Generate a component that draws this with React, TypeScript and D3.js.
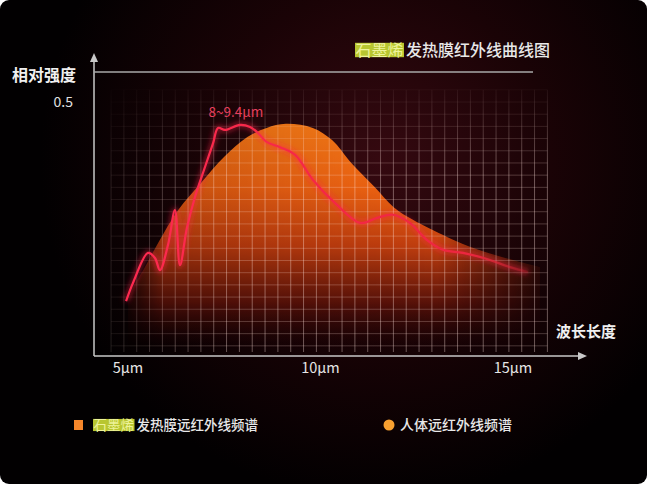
import { useEffect, useRef } from 'react';
import * as d3 from 'd3';

// human body far-infrared spectrum (orange area)
const bodyWave = [5.0, 5.4, 5.8, 6.3, 6.9, 7.5, 8.1, 8.6, 9.1, 9.8, 10.3, 10.8, 11.4, 11.9, 12.4, 13.3, 14.1, 15.0, 15.7];
const bodyIntensity = [0.12, 0.17, 0.225, 0.287, 0.341, 0.392, 0.431, 0.449, 0.457, 0.449, 0.425, 0.38, 0.333, 0.293, 0.268, 0.234, 0.209, 0.189, 0.175];

// graphene heating film spectrum (red line)
const filmWave = [4.95, 5.13, 5.52, 5.7, 5.83, 6.04, 6.22, 6.35, 6.53, 6.74, 7.0, 7.21, 7.34, 7.52, 7.91, 8.17, 8.35, 8.61, 8.95, 9.34, 9.81, 10.38, 11.03, 11.47, 11.88, 12.32, 12.77, 13.18, 13.7, 14.32, 14.92, 15.39];
const filmIntensity = [0.108, 0.144, 0.203, 0.193, 0.169, 0.219, 0.287, 0.179, 0.252, 0.313, 0.372, 0.419, 0.449, 0.445, 0.455, 0.451, 0.441, 0.421, 0.411, 0.396, 0.346, 0.301, 0.262, 0.272, 0.278, 0.262, 0.228, 0.209, 0.203, 0.191, 0.175, 0.165];

const xTicks = [5, 10, 15];
const xTickLabels = ['5µm', '10µm', '15µm'];
const yTicks = [0.5];
const yTickLabels = ['0.5'];

const highlight = '石墨烯';
const titleRest = '发热膜红外线曲线图';
const yAxisTitle = '相对强度';
const xAxisTitle = '波长长度';
const peakNote = '8~9.4µm';
const legendFilmRest = '发热膜远红外线频谱';
const legendBody = '人体远红外线频谱';

const FONT = '"Noto Sans CJK SC", "Noto Sans", sans-serif';

export default function App() {
  const svgRef = useRef<SVGSVGElement>(null);

  useEffect(() => {
    if (!svgRef.current) return;
    const W = 647;
    const H = 484;
    const svg = d3.select(svgRef.current);
    svg.selectAll('*').remove();
    svg.attr('width', W).attr('height', H);

    const axisX = 94;
    const axisY = 356;

    const x = d3.scaleLinear().domain([5, 15]).range([128, 513]);
    const y = d3.scaleLinear().domain([0, 0.5]).range([axisY, 102]);

    const defs = svg.append('defs');

    // background glow
    const bg = defs.append('radialGradient').attr('id', 'bgGlow')
      .attr('gradientUnits', 'userSpaceOnUse')
      .attr('cx', 380).attr('cy', 160).attr('r', 340);
    bg.append('stop').attr('offset', 0).attr('stop-color', '#350910');
    bg.append('stop').attr('offset', 0.5).attr('stop-color', '#1a0306');
    bg.append('stop').attr('offset', 1).attr('stop-color', '#020001');

    // area fill
    const areaGrad = defs.append('linearGradient').attr('id', 'areaGrad')
      .attr('gradientUnits', 'userSpaceOnUse')
      .attr('x1', 0).attr('x2', 0).attr('y1', 120).attr('y2', 348);
    areaGrad.append('stop').attr('offset', 0).attr('stop-color', '#ff8016');
    areaGrad.append('stop').attr('offset', 0.3).attr('stop-color', '#f26512');
    areaGrad.append('stop').attr('offset', 0.55).attr('stop-color', '#c23e0e');
    areaGrad.append('stop').attr('offset', 0.8).attr('stop-color', '#5a1209');
    areaGrad.append('stop').attr('offset', 1).attr('stop-color', '#2a0505').attr('stop-opacity', 0);

    const areaFade = defs.append('linearGradient').attr('id', 'areaFade')
      .attr('gradientUnits', 'userSpaceOnUse')
      .attr('x1', 120).attr('x2', 555).attr('y1', 0).attr('y2', 0);
    areaFade.append('stop').attr('offset', 0).attr('stop-color', '#fff').attr('stop-opacity', 0);
    areaFade.append('stop').attr('offset', 0.1).attr('stop-color', '#fff').attr('stop-opacity', 0.8);
    areaFade.append('stop').attr('offset', 0.73).attr('stop-color', '#fff').attr('stop-opacity', 1);
    areaFade.append('stop').attr('offset', 1).attr('stop-color', '#fff').attr('stop-opacity', 0);
    defs.append('mask').attr('id', 'areaMask')
      .append('rect').attr('x', 0).attr('y', 0).attr('width', W).attr('height', H)
      .attr('fill', 'url(#areaFade)');

    // grid fades
    const gridFadeV = defs.append('linearGradient').attr('id', 'gridFadeV')
      .attr('gradientUnits', 'userSpaceOnUse')
      .attr('x1', 0).attr('x2', 0).attr('y1', 82).attr('y2', 175);
    gridFadeV.append('stop').attr('offset', 0).attr('stop-color', '#fff').attr('stop-opacity', 0.08);
    gridFadeV.append('stop').attr('offset', 1).attr('stop-color', '#fff').attr('stop-opacity', 1);
    defs.append('mask').attr('id', 'gridMaskV')
      .append('rect').attr('x', 0).attr('y', 0).attr('width', W).attr('height', H)
      .attr('fill', 'url(#gridFadeV)');
    const gridFadeH = defs.append('linearGradient').attr('id', 'gridFadeH')
      .attr('gradientUnits', 'userSpaceOnUse')
      .attr('x1', 105).attr('x2', 230).attr('y1', 0).attr('y2', 0);
    gridFadeH.append('stop').attr('offset', 0).attr('stop-color', '#fff').attr('stop-opacity', 0.3);
    gridFadeH.append('stop').attr('offset', 1).attr('stop-color', '#fff').attr('stop-opacity', 1);
    defs.append('mask').attr('id', 'gridMaskH')
      .append('rect').attr('x', 0).attr('y', 0).attr('width', W).attr('height', H)
      .attr('fill', 'url(#gridFadeH)');

    // red line fade at the right end
    const lineGrad = defs.append('linearGradient').attr('id', 'lineGrad')
      .attr('gradientUnits', 'userSpaceOnUse')
      .attr('x1', 120).attr('x2', 532).attr('y1', 0).attr('y2', 0);
    lineGrad.append('stop').attr('offset', 0).attr('stop-color', '#ff2a50');
    lineGrad.append('stop').attr('offset', 0.85).attr('stop-color', '#ec263f');
    lineGrad.append('stop').attr('offset', 1).attr('stop-color', '#e02838').attr('stop-opacity', 0.15);

    const blur = defs.append('filter').attr('id', 'glow')
      .attr('x', '-10%').attr('y', '-10%').attr('width', '120%').attr('height', '120%');
    blur.append('feGaussianBlur').attr('stdDeviation', 2.5);

    // background with rounded corners
    svg.append('rect').attr('x', 0).attr('y', 0).attr('width', W).attr('height', H)
      .attr('rx', 9).attr('fill', 'url(#bgGlow)');

    // human body area
    const area = d3.area<number>()
      .x((_, i) => x(bodyWave[i]))
      .y0(() => y(0))
      .y1(d => y(d))
      .curve(d3.curveCatmullRom.alpha(0.5));
    svg.append('g').attr('mask', 'url(#areaMask)')
      .append('path')
      .datum(bodyIntensity)
      .attr('d', area)
      .attr('fill', 'url(#areaGrad)');

    // grid
    const gridX = d3.range(4.56, 16.15, 1 / 3);
    const gridY = d3.range(0.02, 0.53, 0.024);
    const gOuter = svg.append('g').attr('mask', 'url(#gridMaskV)');
    const grid = gOuter.append('g').attr('mask', 'url(#gridMaskH)');
    const gxLeft = x(gridX[0]);
    const gxRight = x(gridX[gridX.length - 1]);
    const gyTop = y(gridY[gridY.length - 1]);
    const gyBottom = y(0) - 4;
    grid.selectAll('line.v').data(gridX).join('line')
      .attr('class', 'v')
      .attr('x1', d => x(d)).attr('x2', d => x(d))
      .attr('y1', gyTop).attr('y2', gyBottom)
      .attr('stroke', '#ffe4dc').attr('stroke-opacity', 0.38).attr('stroke-width', 1);
    grid.selectAll('line.h').data(gridY).join('line')
      .attr('class', 'h')
      .attr('x1', gxLeft).attr('x2', gxRight)
      .attr('y1', d => y(d)).attr('y2', d => y(d))
      .attr('stroke', '#ffe0d8').attr('stroke-opacity', 0.24).attr('stroke-width', 1);

    // graphene film line
    const line = d3.line<number>()
      .x((_, i) => x(filmWave[i]))
      .y(d => y(d))
      .curve(d3.curveCatmullRom.alpha(0.5));
    svg.append('path')
      .datum(filmIntensity)
      .attr('d', line)
      .attr('fill', 'none')
      .attr('stroke', '#ff2448')
      .attr('stroke-opacity', 0.4)
      .attr('stroke-width', 6)
      .attr('filter', 'url(#glow)');
    svg.append('path')
      .datum(filmIntensity)
      .attr('d', line)
      .attr('fill', 'none')
      .attr('stroke', 'url(#lineGrad)')
      .attr('stroke-width', 2.2)
      .attr('stroke-linejoin', 'round');

    // axes
    const axisColor = '#c9c9c9';
    svg.append('line')
      .attr('x1', axisX).attr('x2', axisX).attr('y1', axisY).attr('y2', 60)
      .attr('stroke', axisColor).attr('stroke-width', 1.5);
    svg.append('path')
      .attr('d', `M${axisX},53 L${axisX - 4},62 L${axisX + 4},62 Z`)
      .attr('fill', axisColor);
    svg.append('line')
      .attr('x1', axisX).attr('x2', 580).attr('y1', axisY).attr('y2', axisY)
      .attr('stroke', axisColor).attr('stroke-width', 1.5);
    svg.append('path')
      .attr('d', `M587,${axisY} L578,${axisY - 4} L578,${axisY + 4} Z`)
      .attr('fill', axisColor);
    svg.append('line')
      .attr('x1', axisX).attr('x2', 533).attr('y1', 72).attr('y2', 72)
      .attr('stroke', '#a9a9a9').attr('stroke-width', 1.5);

    // tick labels
    svg.selectAll('text.xt').data(xTicks).join('text')
      .attr('class', 'xt')
      .attr('x', d => x(d))
      .attr('y', 373)
      .attr('text-anchor', 'middle')
      .attr('font-family', FONT)
      .attr('font-size', 14.5)
      .attr('fill', '#e6e6e6')
      .text((_, i) => xTickLabels[i]);
    svg.selectAll('text.yt').data(yTicks).join('text')
      .attr('class', 'yt')
      .attr('x', 73)
      .attr('y', d => y(d))
      .attr('dy', '0.35em')
      .attr('text-anchor', 'end')
      .attr('font-family', FONT)
      .attr('font-size', 14)
      .attr('fill', '#e0e0e0')
      .text((_, i) => yTickLabels[i]);

    // axis titles
    svg.append('text')
      .attr('x', 12).attr('y', 75).attr('dy', '0.35em')
      .attr('font-family', FONT).attr('font-size', 16).attr('font-weight', 700)
      .attr('fill', '#f0f0f0')
      .text(yAxisTitle);
    svg.append('text')
      .attr('x', 556).attr('y', 332).attr('dy', '0.35em')
      .attr('font-family', FONT).attr('font-size', 15).attr('font-weight', 700)
      .attr('fill', '#f0f0f0')
      .text(xAxisTitle);

    // peak note
    svg.append('text')
      .attr('x', x(7.8)).attr('y', y(0.47))
      .attr('text-anchor', 'middle')
      .attr('font-family', FONT).attr('font-size', 13.5)
      .attr('fill', '#e8405e')
      .text(peakNote);

    // title with highlighted word
    const hl = (gx: number, gy: number, size: number, rest: string) => {
      const g = svg.append('g').attr('transform', `translate(${gx},${gy})`);
      const hw = size * 3 + 1;
      g.append('rect')
        .attr('x', 0).attr('y', -size * 0.45).attr('width', hw).attr('height', size * 0.9)
        .attr('fill', '#b8c630');
      g.append('text')
        .attr('x', 0.5).attr('y', 0).attr('dy', '0.36em')
        .attr('font-family', FONT).attr('font-size', size)
        .attr('fill', '#eef39a')
        .text(highlight);
      g.append('text')
        .attr('x', hw + 2).attr('y', 0).attr('dy', '0.36em')
        .attr('font-family', FONT).attr('font-size', size).attr('font-weight', 500)
        .attr('fill', '#e8e8e8')
        .text(rest);
    };
    hl(355, 50, 16, titleRest);

    // legend
    svg.append('rect')
      .attr('x', 74).attr('y', 420).attr('width', 9).attr('height', 10)
      .attr('fill', '#f5862a');
    hl(93, 425, 13.5, legendFilmRest);
    svg.append('circle')
      .attr('cx', 389).attr('cy', 425).attr('r', 5.5)
      .attr('fill', '#f7a030');
    svg.append('text')
      .attr('x', 400).attr('y', 425).attr('dy', '0.36em')
      .attr('font-family', FONT).attr('font-size', 14).attr('font-weight', 500)
      .attr('fill', '#e8e8e8')
      .text(legendBody);
  }, []);

  return (
    <div style={{ position: 'absolute', left: 0, top: 0, width: 647, height: 484, background: '#fff' }}>
      <svg ref={svgRef} style={{ display: 'block' }} />
    </div>
  );
}
